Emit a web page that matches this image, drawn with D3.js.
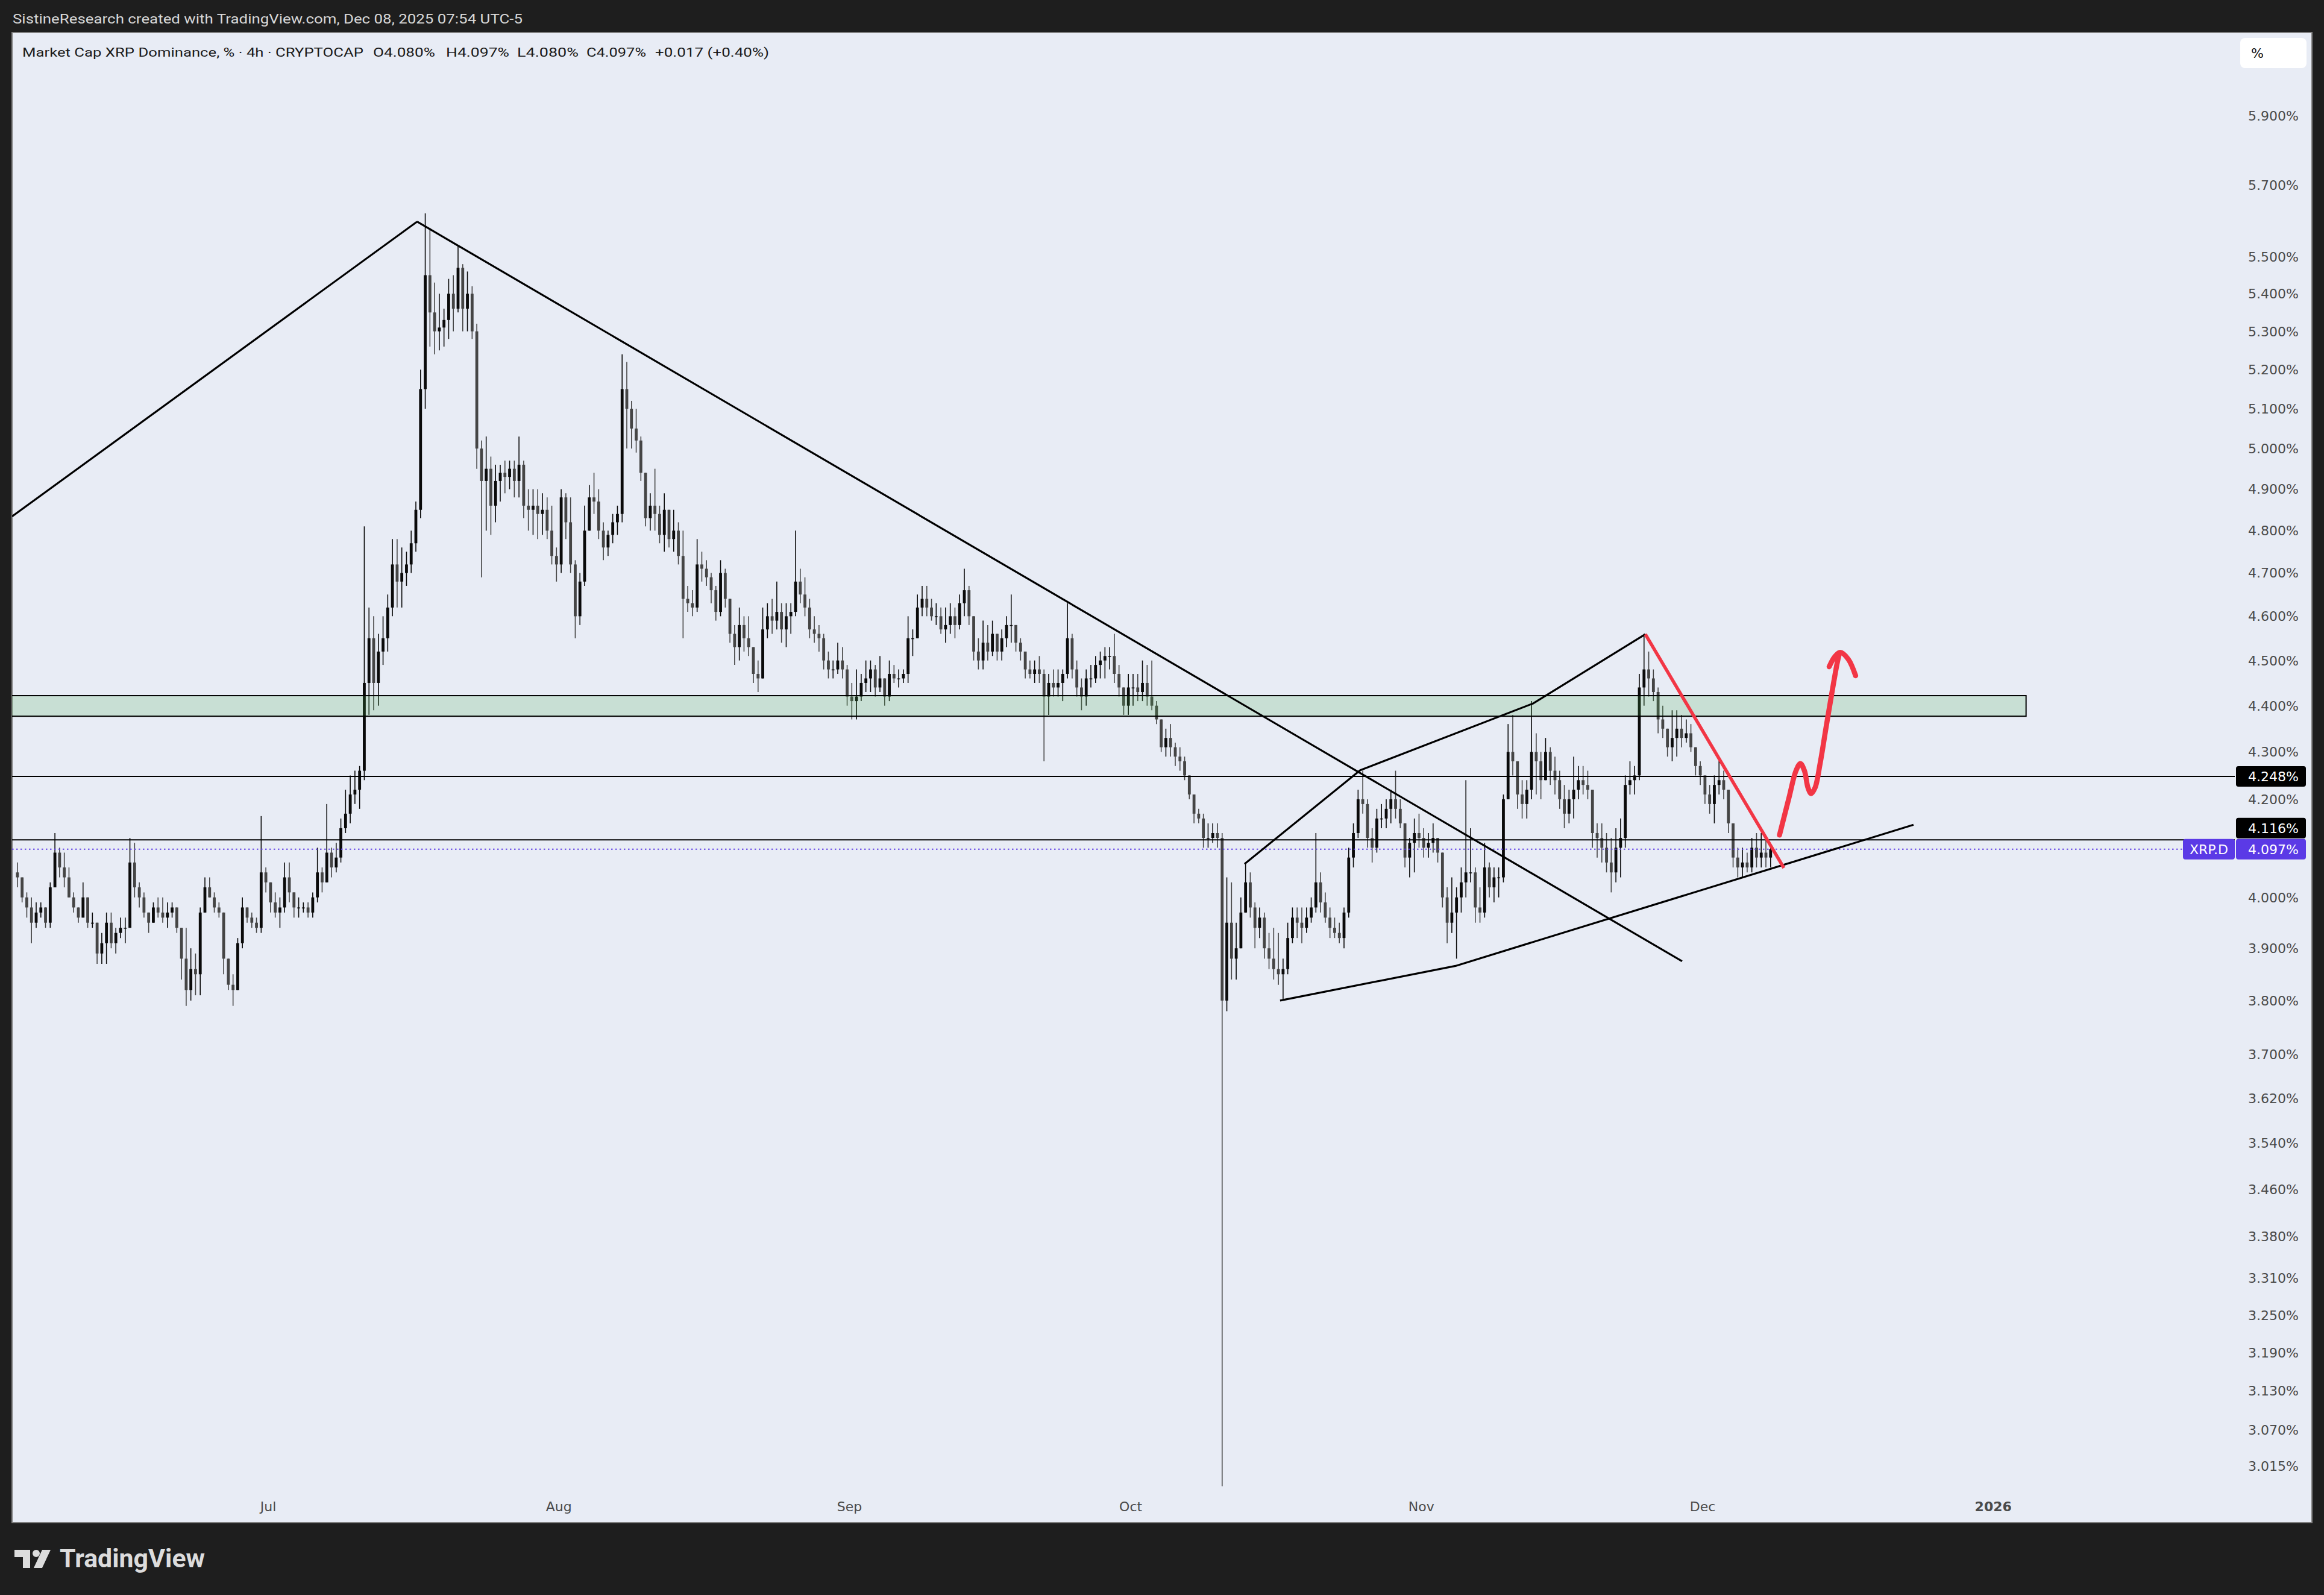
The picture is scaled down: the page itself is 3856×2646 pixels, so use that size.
<!DOCTYPE html>
<html><head><meta charset="utf-8">
<script src="https://cdn.jsdelivr.net/npm/d3@7"></script>
<style>html,body{margin:0;padding:0;background:#1e1e1e;}svg{display:block;}</style>
</head><body>
<svg id="c" width="3856" height="2646"></svg>
<script>
// ---------------- DATA ----------------
const headerText = "SistineResearch created with TradingView.com, Dec 08, 2025 07:54 UTC-5";
const legendTitle = "Market Cap XRP Dominance, % · 4h · CRYPTOCAP";
const legendOHLC = ["O4.080%", "H4.097%", "L4.080%", "C4.097%", "+0.017 (+0.40%)"];
const symbolName = "XRP.D";

const startTime = "2025-06-04T00:00:00Z";   // first candle open time
const candleHours = 12;
const firstOpen = 4.05;
// each entry: [high, low, close] (open = previous close)
const june = [
[4.07,4.02,4.04],[4.04,3.99,4.00],[4.01,3.96,3.98],[4.00,3.91,3.95],[3.99,3.94,3.97],[3.99,3.96,3.98],
[3.98,3.94,3.95],[4.03,3.94,4.02],[4.13,4.02,4.09],[4.10,4.04,4.06],[4.09,4.02,4.04],[4.06,4.00,4.00],
[4.01,3.97,3.98],[3.98,3.95,3.96],[4.03,3.96,4.00],[4.00,3.94,3.95],[3.97,3.94,3.95],[3.95,3.87,3.89],
[3.93,3.87,3.91],[3.97,3.87,3.95],[3.97,3.90,3.91],[3.94,3.89,3.93],[3.96,3.92,3.94],[3.96,3.91,3.94],
[4.12,3.94,4.07],[4.11,4.00,4.02],[4.03,3.98,4.00],[4.01,3.96,3.97],[3.97,3.93,3.95],[3.99,3.95,3.98],
[4.00,3.96,3.97],[4.00,3.95,3.96],[3.99,3.94,3.97],[3.99,3.96,3.98],[3.98,3.93,3.94],[3.94,3.84,3.88],
[3.94,3.79,3.82],[3.90,3.80,3.86],[3.89,3.81,3.85],[3.98,3.81,3.97],[4.04,3.97,4.02],[4.04,4.00,4.00],
[4.01,3.97,3.98],[3.99,3.96,3.97],[3.96,3.85,3.88],[3.88,3.82,3.83],[3.85,3.79,3.82],[3.92,3.83,3.91],
[4.00,3.90,3.98],[3.98,3.95,3.96],[3.97,3.94,3.95],[3.96,3.93,3.94],[4.165,3.93,4.05],[4.06,4.01,4.03]];
const july = [
[4.03,3.97,3.99],[4.01,3.96,3.97],[4.00,3.94,3.98],[4.07,3.97,4.04],[4.07,3.99,4.01],[4.01,3.96,3.98],
[4.00,3.96,3.98],[3.99,3.97,3.98],[3.99,3.96,3.97],[4.01,3.96,4.00],[4.10,3.99,4.05],[4.06,4.01,4.03],
[4.19,4.03,4.09],[4.10,4.04,4.06],[4.11,4.05,4.08],[4.16,4.07,4.14],[4.22,4.13,4.17],[4.25,4.15,4.21],
[4.26,4.19,4.22],[4.27,4.18,4.26],[4.81,4.24,4.45],[4.62,4.38,4.55],[4.60,4.39,4.45],[4.56,4.40,4.52],
[4.60,4.49,4.55],[4.65,4.52,4.62],[4.78,4.60,4.72],[4.78,4.62,4.68],[4.76,4.62,4.70],[4.75,4.67,4.72],
[4.80,4.70,4.77],[4.87,4.75,4.85],[5.20,4.83,5.15],[5.62,5.10,5.45],[5.58,5.26,5.35],[5.43,5.24,5.30],
[5.40,5.25,5.31],[5.36,5.26,5.33],[5.44,5.28,5.40],[5.45,5.30,5.36],[5.53,5.35,5.47],[5.48,5.30,5.36],
[5.46,5.30,5.40],[5.42,5.28,5.30],[5.32,4.95,5.00],[5.02,4.69,4.92],[5.03,4.80,4.95],[4.98,4.79,4.86],
[4.96,4.82,4.92],[4.96,4.87,4.94],[4.97,4.89,4.93],[4.97,4.90,4.95],[4.97,4.88,4.92],[5.03,4.88,4.96],
[4.97,4.83,4.86],[4.90,4.80,4.85],[4.90,4.79,4.86],[4.90,4.78,4.84],[4.89,4.79,4.85],[4.88,4.78,4.80],
[4.86,4.72,4.74],[4.76,4.68,4.72]];
const august = [
[4.90,4.70,4.88],[4.89,4.78,4.82],[4.88,4.70,4.72],[4.73,4.55,4.60],[4.70,4.58,4.68],[4.86,4.67,4.80],
[4.91,4.80,4.88],[4.94,4.84,4.87],[4.90,4.78,4.80],[4.82,4.73,4.76],[4.80,4.74,4.79],[4.84,4.77,4.82],
[4.86,4.79,4.84],[5.24,4.82,5.15],[5.22,5.00,5.10],[5.12,5.00,5.05],[5.10,4.99,5.02],[5.03,4.92,4.94],
[4.92,4.81,4.83],[4.89,4.80,4.86],[4.95,4.80,4.84],[4.86,4.77,4.79],[4.89,4.75,4.85],[4.85,4.76,4.78],
[4.85,4.75,4.80],[4.82,4.72,4.74],[4.80,4.55,4.64],[4.67,4.61,4.63],[4.66,4.60,4.62],[4.78,4.61,4.72],
[4.75,4.68,4.71],[4.73,4.67,4.69],[4.70,4.63,4.66],[4.67,4.59,4.61],[4.73,4.60,4.70],[4.71,4.62,4.64],
[4.64,4.54,4.56],[4.58,4.49,4.53],[4.62,4.50,4.58],[4.60,4.52,4.55],[4.60,4.51,4.53],[4.53,4.45,4.47],
[4.50,4.43,4.46],[4.62,4.46,4.57],[4.63,4.55,4.60],[4.64,4.56,4.59],[4.68,4.57,4.61],[4.63,4.54,4.57],
[4.63,4.53,4.60],[4.63,4.56,4.61],[4.80,4.60,4.68],[4.71,4.63,4.65],[4.69,4.60,4.62],[4.64,4.55,4.57],
[4.60,4.54,4.56],[4.58,4.52,4.55],[4.56,4.48,4.50],[4.52,4.46,4.48],[4.50,4.46,4.48],[4.54,4.47,4.50],
[4.53,4.46,4.48],[4.49,4.40,4.42]];
const september = [
[4.45,4.37,4.41],[4.48,4.37,4.42],[4.47,4.41,4.45],[4.50,4.43,4.46],[4.50,4.43,4.48],[4.49,4.42,4.44],
[4.51,4.43,4.46],[4.46,4.40,4.42],[4.50,4.41,4.47],[4.49,4.45,4.46],[4.48,4.44,4.46],[4.48,4.45,4.47],
[4.60,4.45,4.55],[4.57,4.51,4.55],[4.65,4.55,4.62],[4.67,4.60,4.64],[4.67,4.60,4.62],[4.64,4.59,4.60],
[4.63,4.58,4.60],[4.62,4.56,4.57],[4.62,4.54,4.58],[4.63,4.56,4.60],[4.62,4.55,4.58],[4.65,4.57,4.63],
[4.71,4.60,4.66],[4.67,4.58,4.60],[4.60,4.50,4.52],[4.55,4.48,4.50],[4.59,4.48,4.54],[4.58,4.50,4.52],
[4.59,4.51,4.56],[4.56,4.50,4.52],[4.57,4.50,4.55],[4.60,4.53,4.58],[4.65,4.54,4.58],[4.58,4.52,4.54],
[4.55,4.50,4.52],[4.52,4.46,4.48],[4.50,4.46,4.47],[4.50,4.45,4.48],[4.51,4.45,4.47],[4.48,4.28,4.42],
[4.47,4.38,4.45],[4.48,4.42,4.44],[4.48,4.42,4.45],[4.48,4.41,4.47],[4.63,4.46,4.55],[4.56,4.46,4.48],
[4.50,4.42,4.44],[4.46,4.39,4.42],[4.48,4.40,4.46],[4.49,4.44,4.46],[4.51,4.45,4.49],[4.52,4.46,4.50],
[4.53,4.46,4.51],[4.53,4.48,4.51],[4.56,4.45,4.47],[4.49,4.42,4.44],[4.44,4.38,4.40],[4.47,4.38,4.44]];
const october = [
[4.47,4.40,4.44],[4.47,4.41,4.43],[4.50,4.41,4.45],[4.49,4.40,4.42],[4.50,4.39,4.40],[4.41,4.36,4.37],
[4.37,4.30,4.31],[4.35,4.29,4.33],[4.36,4.29,4.31],[4.32,4.27,4.29],[4.31,4.26,4.28],[4.29,4.24,4.25],
[4.25,4.20,4.21],[4.21,4.15,4.17],[4.18,4.15,4.16],[4.17,4.10,4.12],[4.15,4.10,4.12],[4.15,4.11,4.13],
[4.15,4.10,4.12],[4.13,2.985,3.80],[4.04,3.78,3.95],[4.03,3.84,3.88],[3.95,3.84,3.90],[4.00,3.90,3.97],
[4.07,3.98,4.03],[4.05,3.96,3.98],[3.99,3.90,3.94],[3.98,3.92,3.96],[3.97,3.88,3.90],[3.93,3.86,3.88],
[3.94,3.84,3.86],[3.93,3.83,3.85],[3.88,3.80,3.86],[3.95,3.85,3.92],[3.98,3.91,3.96],[3.98,3.92,3.95],
[3.98,3.91,3.94],[3.98,3.93,3.96],[4.00,3.95,3.98],[4.13,3.97,4.03],[4.05,3.97,3.99],[4.01,3.95,3.96],
[3.98,3.92,3.94],[3.96,3.92,3.93],[3.95,3.91,3.92],[3.98,3.90,3.97],[4.10,3.96,4.08],[4.15,4.06,4.13],
[4.22,4.12,4.20],[4.26,4.17,4.19],[4.20,4.10,4.12],[4.14,4.07,4.10],[4.18,4.09,4.16],[4.19,4.14,4.16],
[4.20,4.14,4.18],[4.22,4.15,4.20],[4.26,4.16,4.18],[4.20,4.14,4.15],[4.15,4.06,4.08],[4.12,4.04,4.11],
[4.16,4.05,4.13],[4.17,4.10,4.12]];
const november = [
[4.14,4.08,4.10],[4.13,4.08,4.11],[4.15,4.09,4.12],[4.12,4.07,4.09],[4.09,3.98,4.00],[4.02,3.91,3.95],
[4.04,3.93,3.97],[4.02,3.88,4.00],[4.06,3.97,4.03],[4.24,4.00,4.05],[4.14,4.03,4.05],[4.06,3.95,3.98],
[4.02,3.95,3.97],[4.11,3.96,4.06],[4.07,4.00,4.02],[4.06,3.99,4.04],[4.06,4.00,4.04],[4.21,4.03,4.20],
[4.36,4.20,4.30],[4.38,4.25,4.28],[4.28,4.18,4.21],[4.24,4.16,4.19],[4.24,4.16,4.22],[4.41,4.20,4.30],
[4.34,4.21,4.28],[4.30,4.20,4.24],[4.33,4.25,4.30],[4.31,4.23,4.26],[4.29,4.21,4.24],[4.26,4.18,4.20],
[4.23,4.14,4.17],[4.22,4.15,4.20],[4.29,4.16,4.22],[4.27,4.20,4.24],[4.27,4.21,4.23],[4.26,4.20,4.22],
[4.21,4.10,4.13],[4.15,4.08,4.12],[4.15,4.07,4.10],[4.13,4.05,4.07],[4.12,4.01,4.05],[4.14,4.03,4.10],
[4.16,4.04,4.12],[4.25,4.10,4.23],[4.28,4.21,4.24],[4.27,4.21,4.25],[4.47,4.24,4.44],[4.56,4.40,4.48],
[4.52,4.42,4.46],[4.48,4.41,4.43],[4.44,4.34,4.37],[4.40,4.33,4.35],[4.35,4.29,4.31],[4.39,4.28,4.33],
[4.39,4.29,4.35],[4.38,4.31,4.33],[4.37,4.32,4.34],[4.36,4.30,4.31],[4.31,4.25,4.27],[4.28,4.23,4.25]];
const december = [
[4.25,4.19,4.21],[4.23,4.17,4.19],[4.25,4.15,4.23],[4.28,4.21,4.24],[4.26,4.20,4.22],[4.22,4.13,4.15],
[4.15,4.06,4.08],[4.10,4.04,4.06],[4.10,4.04,4.07],[4.09,4.05,4.06],[4.12,4.05,4.10],[4.13,4.06,4.08],
[4.13,4.06,4.09],[4.12,4.06,4.08],[4.10,4.06,4.097]];

// price scale tick labels (%)
const priceTicks = [5.9,5.7,5.5,5.4,5.3,5.2,5.1,5.0,4.9,4.8,4.7,4.6,4.5,4.4,4.3,4.2,4.0,3.9,3.8,3.7,3.62,3.54,3.46,3.38,3.31,3.25,3.19,3.13,3.07,3.015];
// time scale tick labels
const timeTicks = ["2025-07-01","2025-08-01","2025-09-01","2025-10-01","2025-11-01","2025-12-01","2026-01-01"];
const timeLabels = ["Jul","Aug","Sep","Oct","Nov","Dec","2026"];

// horizontal levels & zone (values in %)
const levelValues = [4.248, 4.116];
const lastPrice = 4.097;
const zoneLow = 4.377, zoneHigh = 4.422;
const zoneSpan = ["2025-05-20T00:00:00Z", "2026-01-04T12:00:00Z"];

// drawings: points as [days after anchorDate, value %]
const anchorDate = "2025-07-01T00:00:00Z";
const lineLeftRise = [[-27.32, 4.834], [15.88, 5.597]];
const lineBigFall = [[15.88, 5.597], [150.81, 3.875]];
const pathUpper = [[104.14, 4.067], [116.48, 4.261], [134.93, 4.405], [146.89, 4.559]];
const pathLower = [[107.93, 3.800], [126.64, 3.866], [175.49, 4.147]];
const lineRed = [[146.89, 4.559], [161.67, 4.059]];
const arrowBody = [[161.20,4.126],[162.21,4.203],[162.96,4.260],[163.43,4.275],[163.86,4.260],[164.24,4.224],[164.57,4.212],[164.99,4.224],[165.53,4.275],[166.17,4.353],[166.82,4.432],[167.35,4.494],[167.57,4.514]];
const arrowHead = [[166.50,4.486],[167.08,4.508],[167.67,4.518],[168.53,4.503],[169.32,4.466]];

// ---------------- LAYOUT ----------------
const W = 3856, H = 2646;
const frame = {l: 20, t: 54, r: 3836, b: 2526};
const plot = {l: 20, t: 54, r: 3708, b: 2470};
const BG = "#e8ecf5", DARK = "#1e1e1e", PURPLE = "#5b3ae6", RED = "#f23645";

const svg = d3.select("#c");
svg.append("rect").attr("width", W).attr("height", H).attr("fill", DARK);
svg.append("rect").attr("x", frame.l).attr("y", frame.t)
  .attr("width", frame.r - frame.l).attr("height", frame.b - frame.t)
  .attr("fill", BG).attr("stroke", "#7f7f7f").attr("stroke-width", 2);

const x = d3.scaleUtc()
  .domain([new Date("2025-07-01T00:00:00Z"), new Date("2025-12-01T00:00:00Z")])
  .range([445, 2825]);
const y = d3.scaleLog().domain([3, 6]).range([2448.7, 135.7]);
const dayDate = d => new Date(Date.parse(anchorDate) + d * 864e5);

svg.append("defs").append("clipPath").attr("id", "plotclip")
  .append("rect").attr("x", plot.l).attr("y", plot.t)
  .attr("width", plot.r - plot.l).attr("height", plot.b - plot.t);
const g = svg.append("g").attr("clip-path", "url(#plotclip)");

// candles
const rows = [].concat(june, july, august, september, october, november, december);
const t0 = Date.parse(startTime);
let prev = firstOpen;
const candles = rows.map((r, i) => {
  const c = {t: new Date(t0 + (i + 0.5) * candleHours * 3600e3), o: prev, h: r[0], l: r[1], c: r[2]};
  prev = r[2];
  return c;
});
const UP = "#0a0a0a", DOWN = "#454545";
const cg = g.append("g");
cg.selectAll("line.wick").data(candles).join("line")
  .attr("x1", d => x(d.t)).attr("x2", d => x(d.t))
  .attr("y1", d => y(Math.max(d.h, d.o, d.c))).attr("y2", d => y(Math.min(d.l, d.o, d.c)))
  .attr("stroke", d => d.c >= d.o ? UP : DOWN).attr("stroke-width", 1.6);
cg.selectAll("rect.body").data(candles).join("rect")
  .attr("x", d => x(d.t) - 2.4).attr("width", 4.8)
  .attr("y", d => y(Math.max(d.o, d.c)))
  .attr("height", d => Math.max(1.5, Math.abs(y(d.o) - y(d.c))))
  .attr("fill", d => d.c >= d.o ? UP : DOWN);

// zone
g.append("rect")
  .attr("x", x(new Date(zoneSpan[0]))).attr("width", x(new Date(zoneSpan[1])) - x(new Date(zoneSpan[0])))
  .attr("y", y(zoneHigh)).attr("height", y(zoneLow) - y(zoneHigh))
  .attr("fill", "rgba(76,175,80,0.2)").attr("stroke", "#000").attr("stroke-width", 2);

// horizontal levels
levelValues.forEach(v => {
  g.append("line").attr("x1", plot.l).attr("x2", plot.r)
    .attr("y1", y(v)).attr("y2", y(v)).attr("stroke", "#000").attr("stroke-width", 2);
});
// last price dotted line
g.append("line").attr("x1", plot.l).attr("x2", 3622)
  .attr("y1", y(lastPrice)).attr("y2", y(lastPrice))
  .attr("stroke", PURPLE).attr("stroke-width", 2).attr("stroke-dasharray", "2.5,4.5");

// trend lines
const ln = d3.line().x(p => x(dayDate(p[0]))).y(p => y(p[1]));
[lineLeftRise, lineBigFall, pathUpper, pathLower].forEach(pts => {
  g.append("path").attr("d", ln(pts)).attr("fill", "none")
    .attr("stroke", "#000").attr("stroke-width", 3.2).attr("stroke-linejoin", "round");
});
g.append("path").attr("d", ln(lineRed)).attr("fill", "none")
  .attr("stroke", RED).attr("stroke-width", 5.5);
const lnc = d3.line().x(p => x(dayDate(p[0]))).y(p => y(p[1])).curve(d3.curveCatmullRom.alpha(0.5));
[arrowBody, arrowHead].forEach(pts => {
  g.append("path").attr("d", lnc(pts)).attr("fill", "none")
    .attr("stroke", RED).attr("stroke-width", 8.5)
    .attr("stroke-linecap", "round").attr("stroke-linejoin", "round");
});

// price axis labels
const AX = "DejaVu Sans";
const fmt = d3.format(".3f");
svg.append("g").selectAll("text").data(priceTicks).join("text")
  .attr("x", 3814).attr("y", d => y(d)).attr("dy", "0.36em")
  .attr("text-anchor", "end").attr("font-family", AX).attr("font-size", 22)
  .attr("fill", "#4a4a4a").text(d => fmt(d) + "%");

// price labels (boxes), stacked so they do not overlap the last-price tag
const TAG_H = 34;
function tag(x0, w, cy, fill, label, anchor) {
  svg.append("rect").attr("x", x0).attr("y", cy - TAG_H / 2).attr("width", w).attr("height", TAG_H)
    .attr("rx", 4).attr("fill", fill);
  svg.append("text").attr("x", anchor === "middle" ? x0 + w / 2 : 3814).attr("y", cy).attr("dy", "0.36em")
    .attr("text-anchor", anchor).attr("font-family", AX).attr("font-size", 22)
    .attr("fill", "#fff").text(label);
}
const lastY = y(lastPrice);
levelValues.forEach(v => {
  let cy = y(v);
  if (Math.abs(cy - lastY) < TAG_H + 1) cy = cy < lastY ? lastY - TAG_H - 1 : lastY + TAG_H + 1;
  tag(3710, 116, cy, "#000", fmt(v) + "%", "end");
});
tag(3622, 86, lastY, PURPLE, symbolName, "middle");
tag(3710, 116, lastY, PURPLE, fmt(lastPrice) + "%", "end");

// % button
svg.append("rect").attr("x", 3717).attr("y", 63).attr("width", 110).attr("height", 50).attr("rx", 8).attr("fill", "#fff");
svg.append("text").attr("x", 3735).attr("y", 96).attr("font-family", AX).attr("font-size", 22).attr("fill", "#111").text("%");

// time axis labels
svg.append("g").selectAll("text").data(timeTicks).join("text")
  .attr("x", d => x(new Date(d + "T00:00:00Z"))).attr("y", 2499).attr("dy", "0.36em")
  .attr("text-anchor", "middle").attr("font-family", AX).attr("font-size", 22)
  .attr("font-weight", (d, i) => timeLabels[i] === "2026" ? "bold" : "normal")
  .attr("fill", "#4a4a4a").text((d, i) => timeLabels[i]);

// header
function fitText(txt, x0, yb, len, size, fill, weight) {
  svg.append("text").attr("x", x0).attr("y", yb).attr("font-family", "Roboto")
    .attr("font-size", size).attr("font-weight", weight || "normal").attr("fill", fill)
    .attr("textLength", len).attr("lengthAdjust", "spacingAndGlyphs").text(txt);
}
fitText(headerText, 21, 39, 846, 21.5, "#d8d8d8");
fitText(legendTitle, 37, 94, 566, 21, "#1a1a1a");
const legendPos = [[619, 103], [740, 105], [858, 102], [973, 99], [1087, 189]];
legendOHLC.forEach((s, i) => fitText(s, legendPos[i][0], 94, legendPos[i][1], 21, "#1a1a1a"));

// TradingView logo
const lg = svg.append("g").attr("fill", "#dcdcdc");
lg.append("rect").attr("x", 24).attr("y", 2571).attr("width", 26).attr("height", 12);
lg.append("rect").attr("x", 38).attr("y", 2571).attr("width", 12).attr("height", 30);
lg.append("circle").attr("cx", 60).attr("cy", 2577).attr("r", 6);
lg.append("path").attr("d", "M70,2571 L84,2571 L70,2601 L56,2601 Z");
fitText("TradingView", 99, 2600, 241, 42, "#dcdcdc", "bold");
</script>
</body></html>
